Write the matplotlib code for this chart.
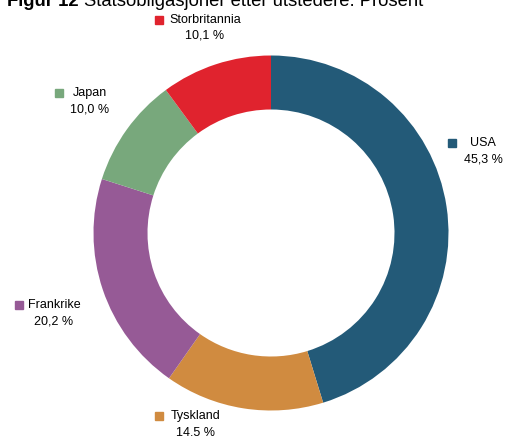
import matplotlib.pyplot as plt

plt.rcParams["font.family"] = ["Liberation Sans", "DejaVu Sans"]

# Statsobligasjoner etter utsteder, prosent
issuers = ["USA", "Tyskland", "Frankrike", "Japan", "Storbritannia"]
shares = [45.3, 14.5, 20.2, 10.0, 10.1]
colors = ["#235a78", "#d08b40", "#965a96", "#78a87c", "#e0232e"]

# label placement in pixels from top-left: (text centre x, name y, marker x)
label_pos = {
    "USA": (483, 143, 452),
    "Tyskland": (196, 416, 159),
    "Frankrike": (54, 305, 19),
    "Japan": (90, 93, 59),
    "Storbritannia": (205, 20, 159),
}

W, H = 507, 436
fig = plt.figure(figsize=(W / 100, H / 100), dpi=100)
ax = fig.add_axes([0, 0, 1, 1])

ax.pie(shares, colors=colors, startangle=90, counterclock=False,
       center=(271, H - 233), radius=177.5,
       wedgeprops=dict(width=54, linewidth=0))
ax.set_xlim(0, W)
ax.set_ylim(0, H)
ax.set_aspect("equal")
ax.axis("off")

for name, val, col in zip(issuers, shares, colors):
    cx, ny, mx = label_pos[name]
    ax.plot(mx, H - ny, marker="s", ms=5.8, color=col, linestyle="none")
    ax.text(cx, H - ny, name, ha="center", va="center", fontsize=9)
    ax.text(cx, H - ny - 16, f"{val:.1f}".replace(".", ",") + " %",
            ha="center", va="center", fontsize=9)

fig.text(7 / W, 1 - 6 / H, "Figur 12", fontsize=13.3, fontweight="bold",
         va="baseline", ha="left")
fig.text(84 / W, 1 - 6 / H, "Statsobligasjoner etter utstedere. Prosent",
         fontsize=13.3, va="baseline", ha="left")

fig.savefig("out.png", dpi=100)
